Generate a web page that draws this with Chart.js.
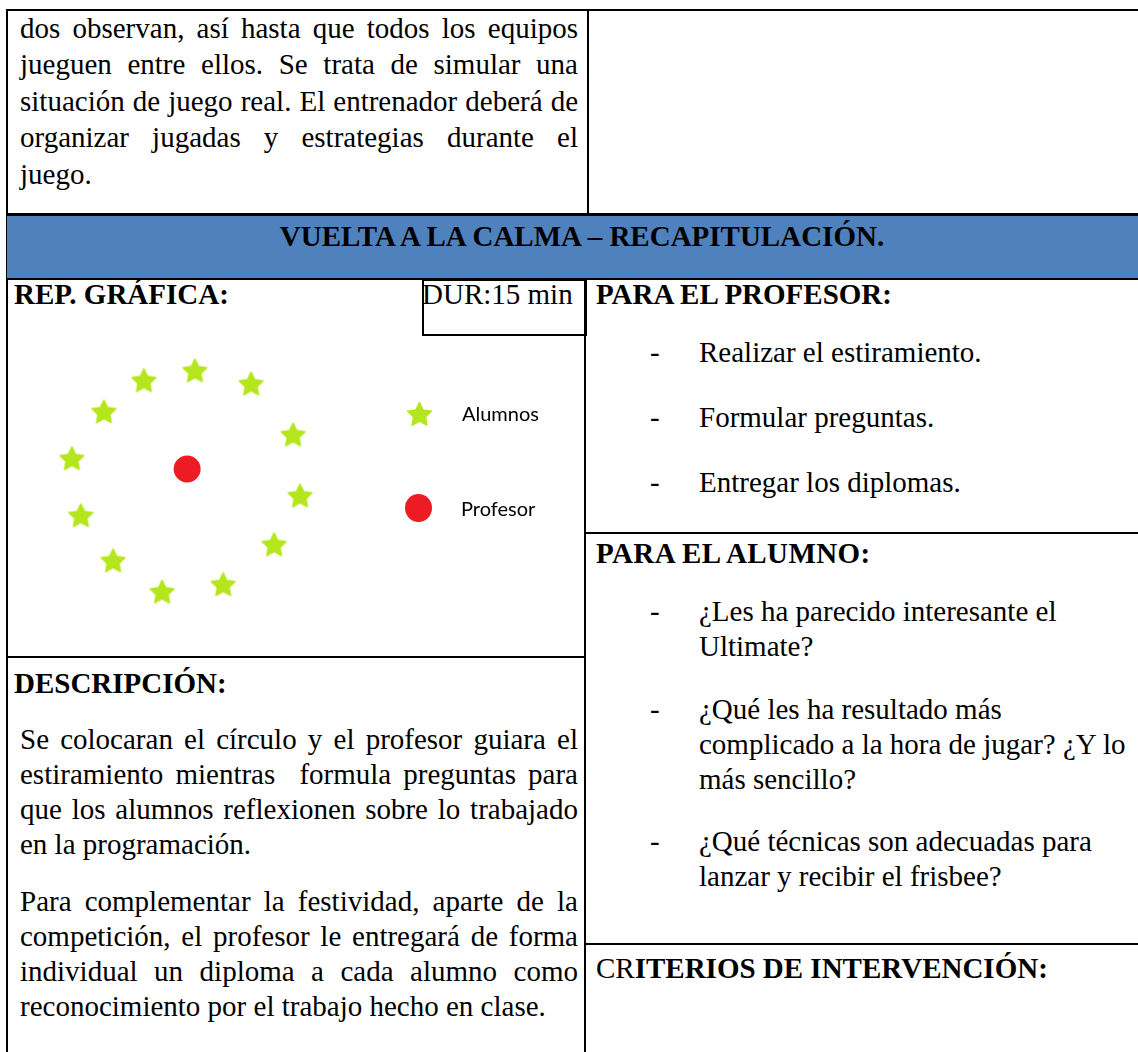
<!DOCTYPE html>
<html lang="es">
<head>
<meta charset="utf-8">
<title>Vuelta a la calma – Recapitulación</title>
<script src="https://cdn.jsdelivr.net/npm/chart.js@4.4.1/dist/chart.umd.min.js"></script>
<style>
  html, body { margin: 0; padding: 0; background: #fff; }
  #page {
    position: relative; width: 1138px; height: 1052px; overflow: hidden;
    font-family: "Liberation Serif", "Times New Roman", serif; font-size: 29px; color: #000;
  }
  .ln { position: absolute; background: #000; }
  .t { position: absolute; line-height: 36px; white-space: nowrap; }
  .j { width: 558px; text-align: justify; text-align-last: justify; white-space: normal; }
  .b { font-weight: bold; }
  #band { position: absolute; left: 7px; top: 216px; width: 1150px; height: 62px; background: #4f81bd; }
  #dur { position: absolute; left: 422px; top: 279px; width: 161px; height: 53px; border: 2px solid #000; }
  #chartBox { position: absolute; left: 8px; top: 336px; width: 576px; height: 320px; }
  #legend { position: absolute; left: 0; top: 0; width: 100%; height: 100%; pointer-events: none; }
  .lg-item { position: absolute; display: flex; align-items: center; font-family: Lato, "Open Sans", sans-serif; font-size: 20px; }
  .lg-mark { width: 44px; display: flex; justify-content: center; margin-left: -22px; }
  .lg-item span.lbl { margin-left: 21px; }
</style>
</head>
<body>
<div id="page">
  <!-- borders -->
  <div class="ln" style="left:6px;top:9px;width:1150px;height:2px"></div>
  <div class="ln" style="left:6px;top:9px;width:2px;height:1060px"></div>
  <div class="ln" style="left:587px;top:9px;width:2px;height:206px"></div>
  <div class="ln" style="left:6px;top:213px;width:1150px;height:3px"></div>
  <div id="band"></div>
  <div class="ln" style="left:6px;top:278px;width:1150px;height:2px"></div>
  <div class="ln" style="left:584px;top:278px;width:2px;height:800px"></div>
  <div class="ln" style="left:563px;top:334px;width:23px;height:1px"></div>
  <div class="ln" style="left:6px;top:656px;width:580px;height:2px"></div>
  <div class="ln" style="left:584px;top:532px;width:570px;height:2px"></div>
  <div class="ln" style="left:584px;top:943px;width:570px;height:2px"></div>
  <div id="dur"></div>

  <!-- top row text -->
  <div class="t j" style="left:20px;top:10px">dos observan, así hasta que todos los equipos</div>
  <div class="t j" style="left:20px;top:46px">jueguen entre ellos. Se trata de simular una</div>
  <div class="t j" style="left:20px;top:83px">situación de juego real. El entrenador deberá de</div>
  <div class="t j" style="left:20px;top:119px">organizar jugadas y estrategias durante el</div>
  <div class="t" style="left:20px;top:156px">juego.</div>

  <!-- header band -->
  <div class="t b" style="left:7px;width:1150px;text-align:center;top:218px">VUELTA A LA CALMA – RECAPITULACIÓN.</div>

  <!-- left column -->
  <div class="t b" style="left:14px;top:276px">REP. GRÁFICA:</div>
  <div class="t" style="left:422px;top:276px">DUR:15 min</div>

  <div id="chartBox">
    <canvas id="diagram"></canvas>
    <div id="legend"></div>
  </div>

  <div class="t b" style="left:14px;top:665px">DESCRIPCIÓN:</div>
  <div class="t j" style="left:20px;top:721px">Se colocaran el círculo y el profesor guiara el</div>
  <div class="t j" style="left:20px;top:756px">estiramiento mientras&nbsp; formula preguntas para</div>
  <div class="t j" style="left:20px;top:791px">que los alumnos reflexionen sobre lo trabajado</div>
  <div class="t" style="left:20px;top:826px">en la programación.</div>
  <div class="t j" style="left:20px;top:883px">Para complementar la festividad, aparte de la</div>
  <div class="t j" style="left:20px;top:918px">competición, el profesor le entregará de forma</div>
  <div class="t j" style="left:20px;top:953px">individual un diploma a cada alumno como</div>
  <div class="t" style="left:20px;top:988px">reconocimiento por el trabajo hecho en clase.</div>

  <!-- right column -->
  <div class="t b" style="left:596px;top:276px">PARA EL PROFESOR:</div>
  <div class="t" style="left:650px;top:334px">-</div>
  <div class="t" style="left:699px;top:334px">Realizar el estiramiento.</div>
  <div class="t" style="left:650px;top:399px">-</div>
  <div class="t" style="left:699px;top:399px">Formular preguntas.</div>
  <div class="t" style="left:650px;top:464px">-</div>
  <div class="t" style="left:699px;top:464px">Entregar los diplomas.</div>

  <div class="t b" style="left:596px;top:535px;letter-spacing:0.4px">PARA EL ALUMNO:</div>
  <div class="t" style="left:650px;top:593px">-</div>
  <div class="t" style="left:699px;top:593px">¿Les ha parecido interesante el</div>
  <div class="t" style="left:699px;top:628px">Ultimate?</div>
  <div class="t" style="left:650px;top:691px">-</div>
  <div class="t" style="left:699px;top:691px">¿Qué les ha resultado más</div>
  <div class="t" style="left:699px;top:726px">complicado a la hora de jugar? ¿Y lo</div>
  <div class="t" style="left:699px;top:761px">más sencillo?</div>
  <div class="t" style="left:650px;top:823px">-</div>
  <div class="t" style="left:699px;top:823px">¿Qué técnicas son adecuadas para</div>
  <div class="t" style="left:699px;top:858px">lanzar y recibir el frisbee?</div>

  <div class="t" style="left:596px;top:950px">CR<b>ITERIOS DE INTERVENCIÓN:</b></div>
</div>

<script>
// Field positions (field units: x 0–20 across, y 0–11 up).
const alumnosX = [4.72, 6.49, 8.44, 3.33, 9.90, 2.22, 10.14, 2.53, 9.24, 3.65, 5.35, 7.47];
const alumnosY = [9.49, 9.83, 9.38, 8.42, 7.63, 6.81, 5.53, 4.85, 3.85, 3.30, 2.23, 2.48];
const profesorX = [6.22];
const profesorY = [6.43];
const seriesLabels = ["Alumnos", "Profesor"];

const FIELD_W = 20;
const FIELD_H = 11;
const LIME = "#b5e61d";
const RED = "#ed1c24";

// Filled five-point star, used as the point style for the students.
function makeStar(color, outer, inner) {
  const size = Math.ceil(outer * 2) + 2;
  const c = document.createElement("canvas");
  c.width = size;
  c.height = size;
  const ctx = c.getContext("2d");
  const cx = size / 2;
  const cy = size / 2 + 1.5;
  ctx.beginPath();
  for (let i = 0; i < 10; i++) {
    const r = i % 2 === 0 ? outer : inner;
    const a = -Math.PI / 2 + i * Math.PI / 5;
    const px = cx + r * Math.cos(a);
    const py = cy + r * Math.sin(a);
    if (i === 0) ctx.moveTo(px, py); else ctx.lineTo(px, py);
  }
  ctx.closePath();
  ctx.fillStyle = color;
  ctx.fill();
  ctx.lineJoin = "round";
  ctx.lineWidth = 1.5;
  ctx.strokeStyle = color;
  ctx.stroke();
  return c;
}

const STAR_OUTER = 12.5;
const STAR_INNER = 6.2;
const star = makeStar(LIME, STAR_OUTER, STAR_INNER);

function toPoints(xs, ys) {
  return xs.map((x, i) => ({ x, y: ys[i] }));
}

const datasets = [
  {
    label: seriesLabels[0],
    data: toPoints(alumnosX, alumnosY),
    pointStyle: star,
    backgroundColor: LIME,
    borderWidth: 0
  },
  {
    label: seriesLabels[1],
    data: toPoints(profesorX, profesorY),
    pointStyle: "circle",
    pointRadius: 13.5,
    backgroundColor: RED,
    borderWidth: 0
  }
];

const chart = new Chart(document.getElementById("diagram"), {
  type: "scatter",
  data: { datasets },
  options: {
    responsive: true,
    maintainAspectRatio: false,
    animation: false,
    events: [],
    clip: false,
    layout: { padding: 0, autoPadding: false },
    scales: {
      x: { type: "linear", min: 0, max: FIELD_W, display: false },
      y: { type: "linear", min: 0, max: FIELD_H, display: false }
    },
    plugins: { legend: { display: false }, tooltip: { enabled: false } }
  }
});

// Custom legend to the right of the circle: marker + label, stacked.
function renderLegend() {
  const box = document.getElementById("legend");
  const spots = [{ left: 411, top: 77 }, { left: 410, top: 172 }];
  chart.data.datasets.forEach((ds, i) => {
    const item = document.createElement("div");
    item.className = "lg-item";
    item.style.left = spots[i].left + "px";
    item.style.top = spots[i].top + "px";
    item.style.height = "0px";
    const mark = document.createElement("div");
    mark.className = "lg-mark";
    if (ds.pointStyle === star) {
      mark.appendChild(makeStar(LIME, STAR_OUTER, STAR_INNER));
    } else {
      const dot = document.createElement("div");
      dot.style.width = "27px";
      dot.style.height = "28px";
      dot.style.borderRadius = "50%";
      dot.style.background = ds.backgroundColor;
      mark.appendChild(dot);
    }
    const lbl = document.createElement("span");
    lbl.className = "lbl";
    lbl.textContent = ds.label;
    item.appendChild(mark);
    item.appendChild(lbl);
    box.appendChild(item);
  });
}
renderLegend();
</script>
</body>
</html>
